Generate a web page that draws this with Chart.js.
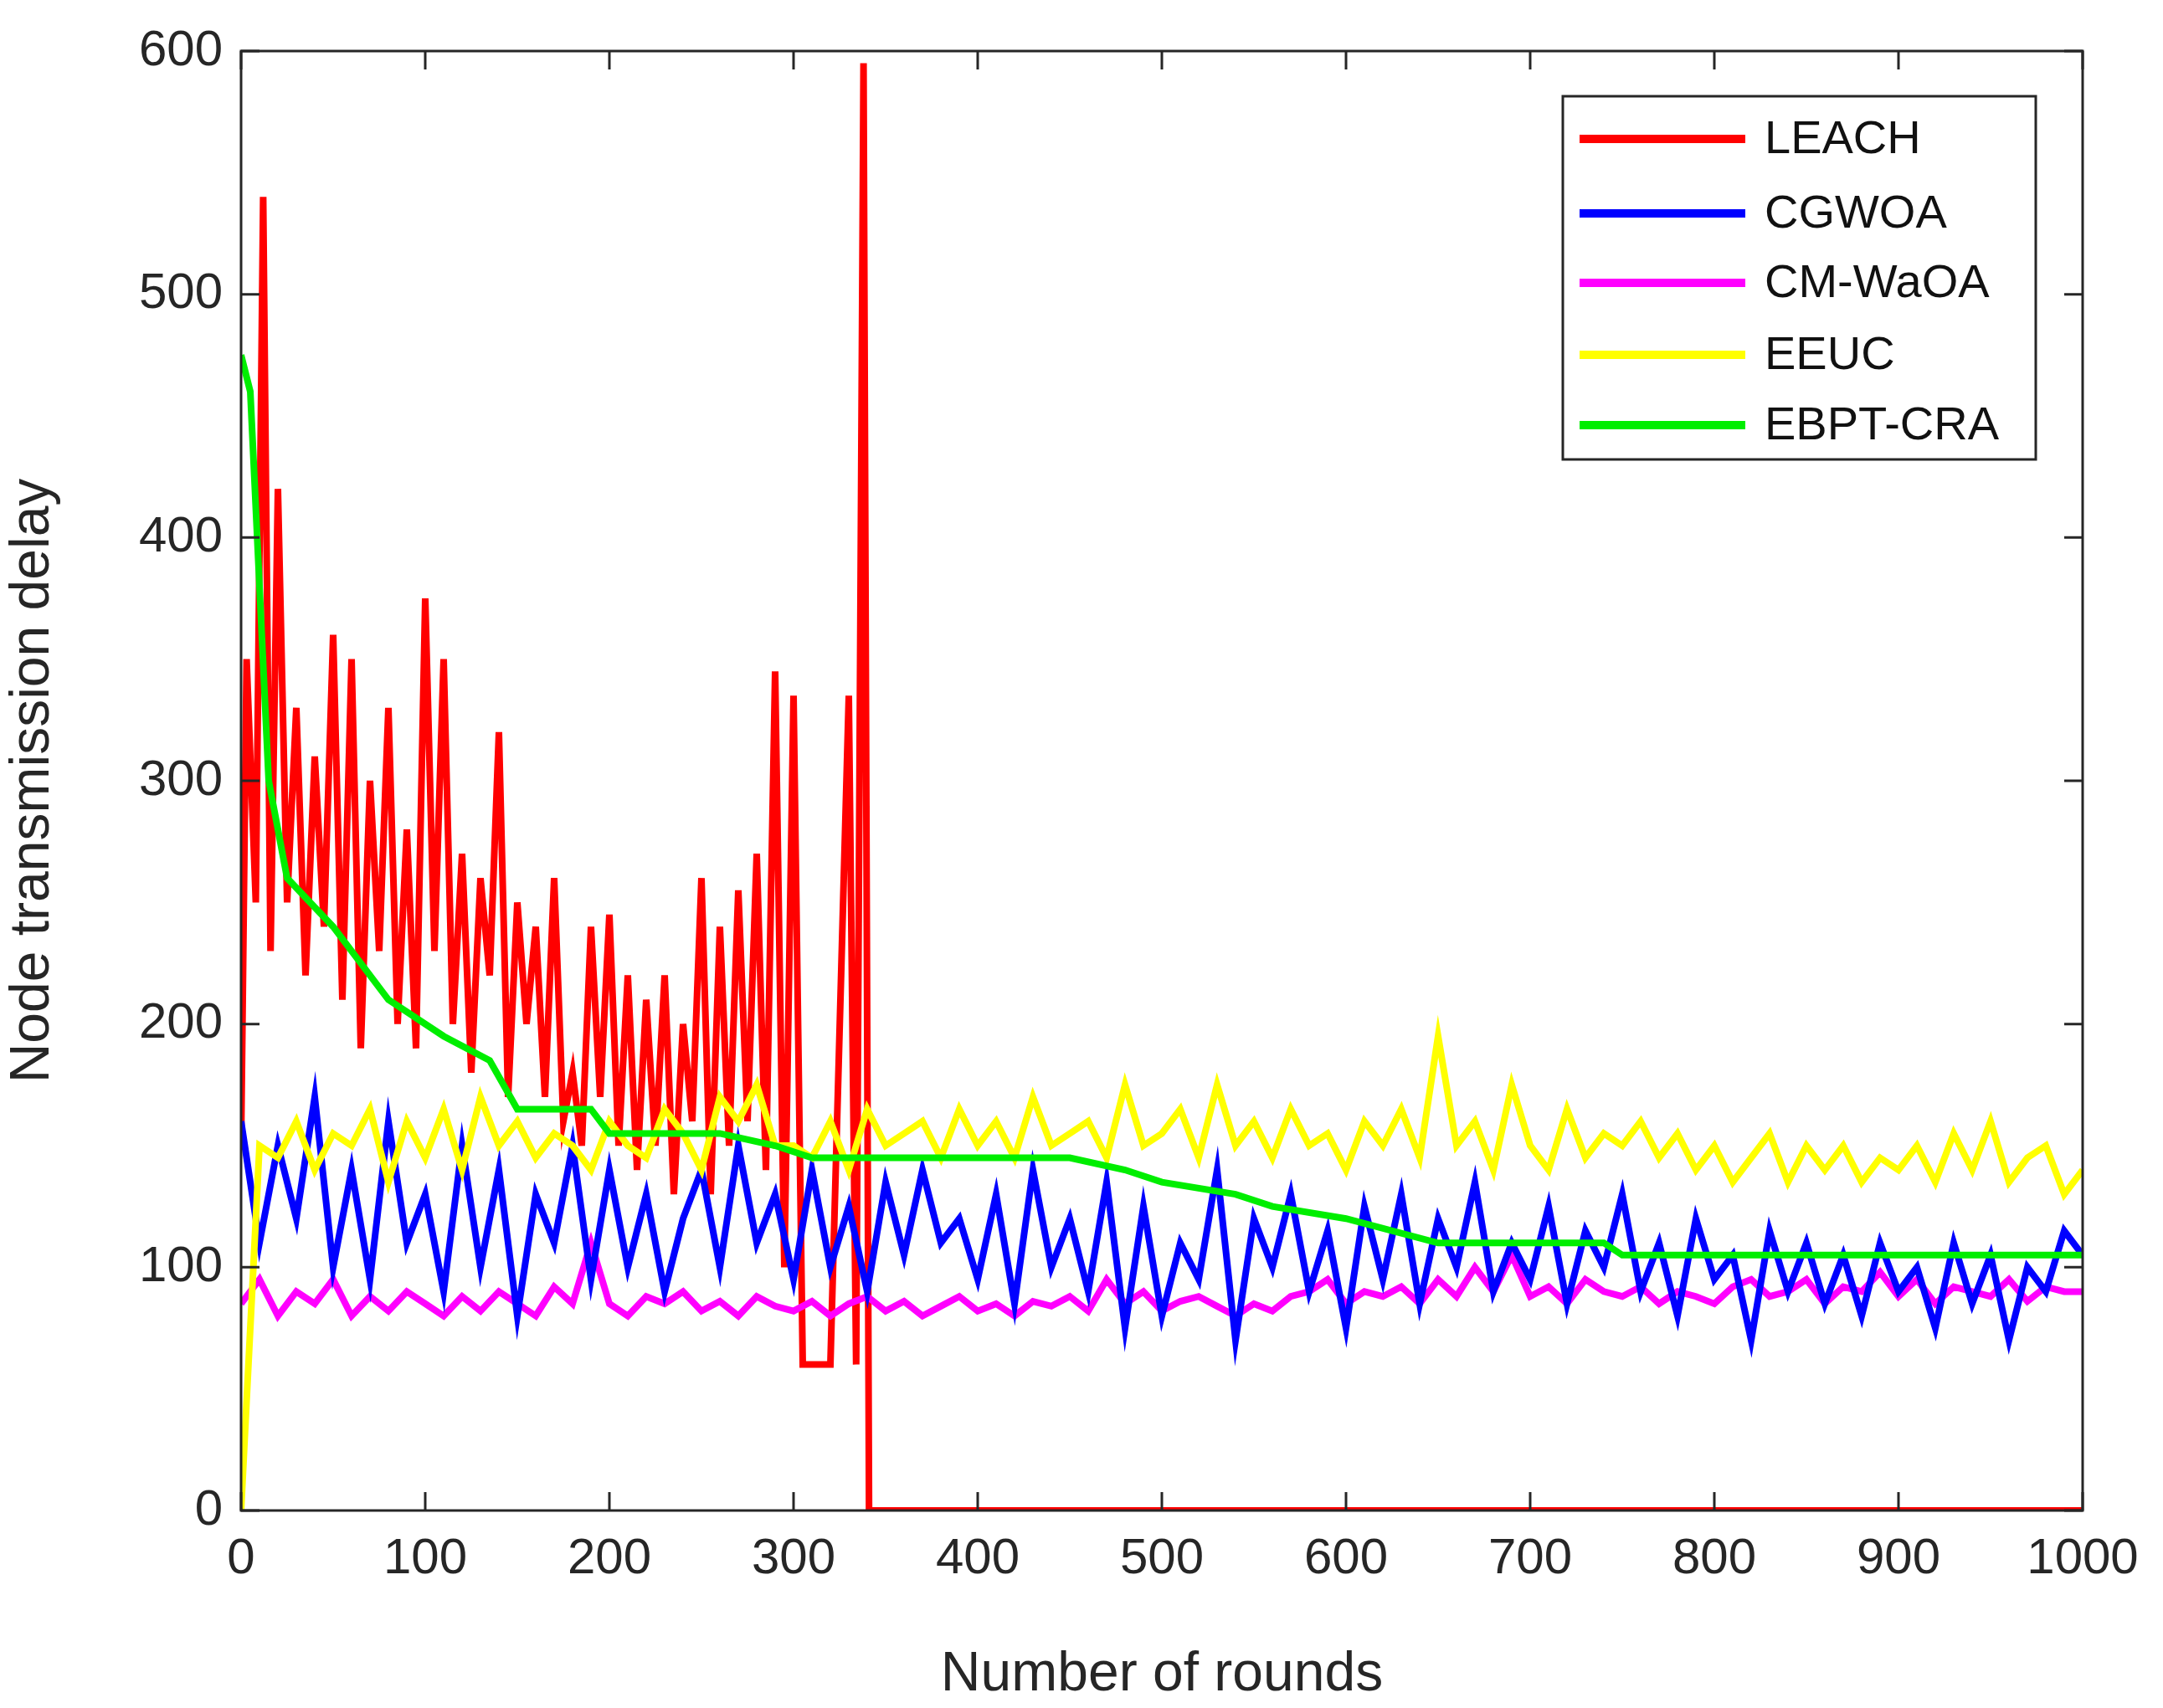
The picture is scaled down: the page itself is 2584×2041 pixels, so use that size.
<!DOCTYPE html>
<html><head><meta charset="utf-8">
<script src="https://cdn.jsdelivr.net/npm/chart.js@4.4.0/dist/chart.umd.min.js"></script>
<style>html,body{margin:0;background:#fff}#wrap{width:2584px;height:2041px}</style>
</head><body><div id="wrap"><canvas id="c"></canvas></div>
<script>
// data
const leachRounds = [0,3,8,12,16,20,25,30,35,40,45,50,55,60,65,70,75,80,85,90,95,100,105,110,115,120,125,130,135,140,145,150,155,160,165,170,175,180,185,190,195,200,205,210,215,220,225,230,235,240,245,250,255,260,265,270,275,280,285,290,295,300,305,310,320,330,334,338,341,1000];
const leach = [150,350,250,540,230,420,250,330,220,310,240,360,210,350,190,300,230,330,200,280,190,375,230,350,200,270,180,260,220,320,170,250,200,240,170,260,160,180,150,240,170,245,150,220,140,210,150,220,130,200,160,260,130,240,150,255,160,270,140,345,100,335,60,60,60,335,60,595,0,0];
const cgwoa = [160,110,150,120,170,100,140,95,160,110, 130,90,150,100,140,80,130,110,150,95, 140,100,130,90,120,140,100,150,110,130, 95,140,100,125,90,135,105,140,110,120, 95,130,85,140,100,120,90,135,75,125, 80,110,95,140,70,120,100,130,90,115, 75,125,95,130,85,120,100,135,90,110, 95,125,85,115,100,130,90,110,80,120, 95,105,70,115,90,110,85,105,80,110, 90,100,75,110,85,105,70,100,90,115, 105];
const cmwaoa = [85,95,80,90,85,95,80,88,82,90, 85,80,88,82,90,85,80,92,85,110, 85,80,88,85,90,82,86,80,88,84, 82,86,80,85,88,82,86,80,84,88, 82,85,80,86,84,88,82,95,85,90, 82,86,88,84,80,85,82,88,90,95, 85,90,88,92,85,95,88,100,90,105, 88,92,85,95,90,88,92,85,90,88, 85,92,95,88,90,95,85,92,90,98, 88,95,85,92,90,88,95,86,92,90, 90];
const eeuc = [0,150,145,160,140,155,150,165,135,160, 145,165,140,170,150,160,145,155,150,140, 160,150,145,165,155,140,170,160,175,150, 150,145,160,140,165,150,155,160,145,165, 150,160,145,170,150,155,160,145,175,150, 155,165,145,175,150,160,145,165,150,155, 140,160,150,165,145,195,150,160,140,175, 150,140,165,145,155,150,160,145,155,140, 150,135,145,155,135,150,140,150,135,145, 140,150,135,155,140,160,135,145,150,130, 140];
const ebptRounds = [0,5,15,25,50,80,110,135,150,190,200,260,290,310,450,480,500,540,560,600,650,740,750,1000];
const ebpt = [475,460,300,260,240,210,195,185,165,165,155,155,150,145,145,140,135,130,125,120,110,110,105,105];
const step10 = v => v.map((y,i)=>({x:i*10,y}));
const pair = (xs,ys) => xs.map((x,i)=>({x,y:ys[i]}));

const names = ['LEACH','CGWOA','CM-WaOA','EEUC','EBPT-CRA'];
const colors = ['#ff0000','#0000ff','#ff00ff','#ffff00','#00ee00'];
const series = [pair(leachRounds,leach), step10(cgwoa), step10(cmwaoa), step10(eeuc), pair(ebptRounds,ebpt)];
const drawOrder = [3,1,2,0,-1];
const FONT = '"Liberation Sans", Arial';

const frame = {
  id:'frame',
  afterDraw(ch){
    const {ctx, chartArea:a, scales:{x,y}} = ch;
    ctx.save();
    ctx.strokeStyle='#262626'; ctx.lineWidth=3;
    ctx.strokeRect(a.left,a.top,a.right-a.left,a.bottom-a.top);
    ctx.beginPath();
    for(let v=0; v<=1000; v+=100){ const p=x.getPixelForValue(v); ctx.moveTo(p,a.bottom); ctx.lineTo(p,a.bottom-22); ctx.moveTo(p,a.top); ctx.lineTo(p,a.top+22); }
    for(let v=0; v<=600; v+=100){ const p=y.getPixelForValue(v); ctx.moveTo(a.left,p); ctx.lineTo(a.left+22,p); ctx.moveTo(a.right,p); ctx.lineTo(a.right-22,p); }
    ctx.stroke();
    // legend box
    ctx.fillStyle='#fff'; ctx.fillRect(1867,115,565,434);
    ctx.strokeRect(1867,115,565,434);
    ctx.font='56px '+FONT; ctx.textBaseline='middle';
    const ys=[166,255,338,424,508];
    names.forEach((n,i)=>{
      ctx.strokeStyle=colors[i]; ctx.lineWidth=10;
      ctx.beginPath(); ctx.moveTo(1887,ys[i]); ctx.lineTo(2085,ys[i]); ctx.stroke();
      ctx.fillStyle='#111'; ctx.fillText(n,2108,ys[i]+2);
    });
    ctx.restore();
  }
};

new Chart(document.getElementById('c'), {
  type:'line',
  data:{ datasets: names.map((n,i)=>({ label:n, data:series[i], borderColor:colors[i], borderWidth:8, pointRadius:0, tension:0, order:drawOrder[i] })) },
  options:{
    responsive:true, maintainAspectRatio:false, animation:false,
    layout:{ padding:{ top:61, right:96, left:0, bottom:0 } },
    plugins:{ legend:{display:false}, tooltip:{enabled:false} },
    scales:{
      x:{ type:'linear', min:0, max:1000, grid:{display:false}, border:{display:false},
          ticks:{ stepSize:100, color:'#262626', font:{size:60, family:FONT}, padding:14, maxRotation:0, callback:v=>String(v) },
          title:{ display:true, text:'Number of rounds', color:'#262626', font:{size:66, family:FONT}, padding:{top:4,bottom:0} },
          afterFit(s){ s.height=236; } },
      y:{ min:0, max:600, grid:{display:false}, border:{display:false},
          ticks:{ stepSize:100, color:'#262626', font:{size:60, family:FONT}, padding:14, callback:v=>String(v) },
          title:{ display:true, text:'Node transmission delay', color:'#262626', font:{size:66, family:FONT}, padding:{top:0,bottom:0} },
          afterFit(s){ s.width=288; } }
    }
  },
  plugins:[frame]
});
</script></body></html>
